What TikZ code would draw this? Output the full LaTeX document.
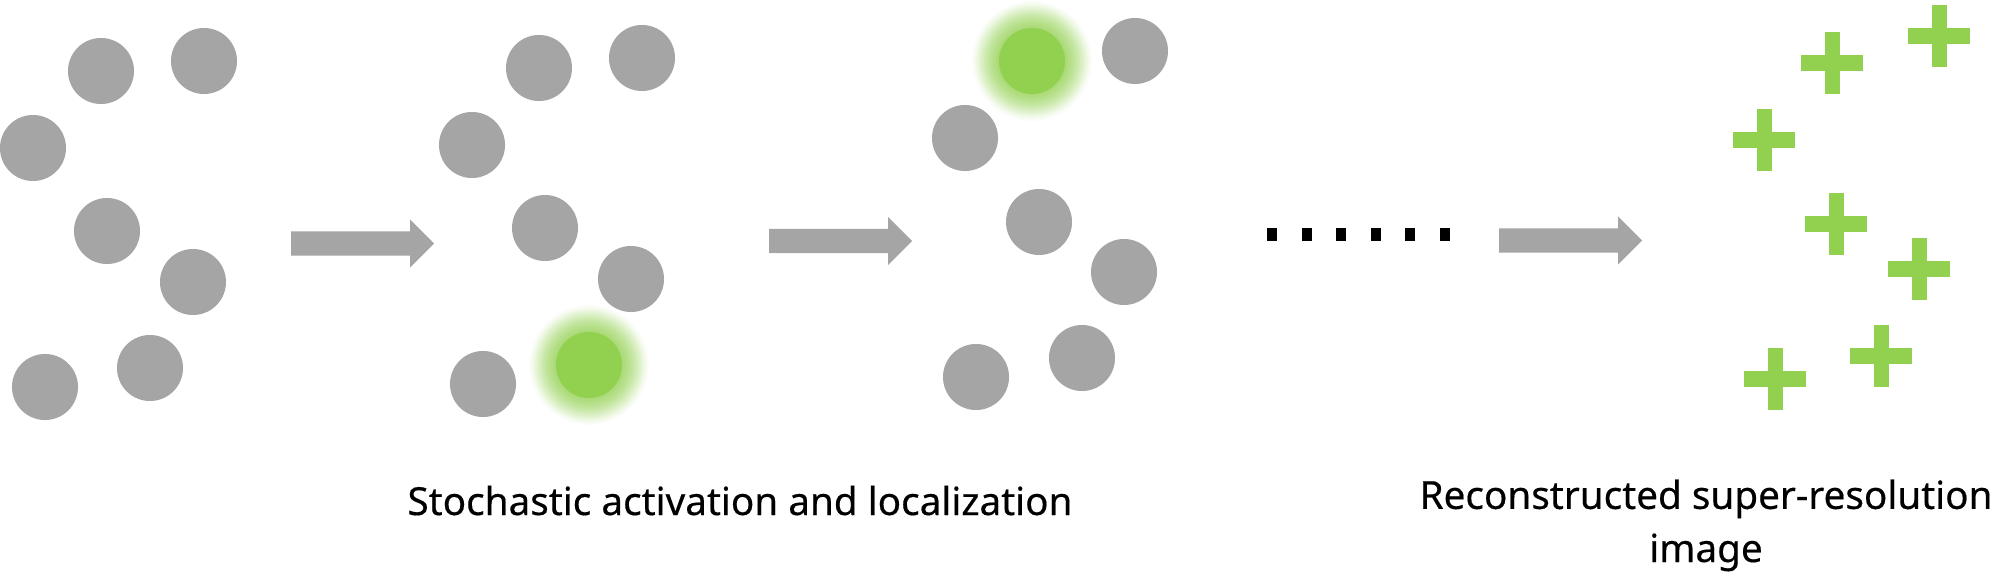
\documentclass[tikz,border=0pt]{standalone}
\usepackage{fontspec}
\setmainfont{Noto Sans}[FakeBold=0.4]
\usepackage{tikz}
\definecolor{white}{RGB}{255,255,255}
\definecolor{black}{RGB}{0,0,0}
\definecolor{dot_gray}{RGB}{165,165,165}
\definecolor{leaf_green}{RGB}{146,208,80}
\tikzset{molecule/.style={circle,fill=dot_gray,minimum size=0.66cm,inner sep=0pt}}

\begin{document}
\begin{tikzpicture}[x=0.01cm,y=-0.01cm]
	\useasboundingbox (0,0) rectangle (2000,576);

	% frame 1
	\foreach \n/\x/\y in {1/101/71,2/204/61,3/33/148,4/107/231,5/193/282,6/45/387,7/150/368}
		\node[molecule] (a\n) at (\x,\y) {};

	% frame 2
	\foreach \n/\x/\y in {1/539/68,2/642/58,3/472/145,4/545/228,5/631/279,6/483/384}
		\node[molecule] (b\n) at (\x,\y) {};

	% frame 3
	\foreach \n/\x/\y in {2/1135/51,3/965/138,4/1039/222,5/1124/272,6/976/377,7/1082/358}
		\node[molecule] (c\n) at (\x,\y) {};

	% halos of the active molecules
	\foreach \gx/\gy in {589/365,1032/61}{
		\foreach \r/\p in {0.60/3,0.58/9,0.56/16,0.54/23,0.52/30,0.50/37,0.48/44,0.46/50,0.44/56,0.42/61,0.40/66,0.38/70,0.36/74,0.34/78}
			\fill[leaf_green!\p!white] (\gx,\gy) circle (\r cm);
	}
	\node[molecule,fill=leaf_green] (b7) at (589,365) {};
	\node[molecule,fill=leaf_green] (c1) at (1032,61) {};

	% block arrows
	\foreach \ax/\ay in {291/243.5,769/241,1499/240.5}
		\fill[dot_gray] (\ax,\ay-12) -- ++(119,0) -- ++(0,-12) -- ++(24,24) -- ++(-24,24) -- ++(0,-12) -- ++(-119,0) -- cycle;

	% dots
	\foreach \i in {0,...,5}
		\fill[black] (1267+34.6*\i,228) rectangle ++(10,13);

	% localizations
	\foreach \x/\y in {1832/63,1939/36,1764/140,1836/224,1919/269,1775/379,1881/356}
		\draw[leaf_green,line width=0.15cm] (\x-31,\y) -- (\x+31,\y) (\x,\y-31) -- (\x,\y+31);

	\node[anchor=base,font=\fontsize{11}{15.1}\selectfont] (stage) at (740,515) {Stochastic activation and localization};
	\node[anchor=base,align=center,font=\fontsize{11}{15.1}\selectfont] (result) at (1706,562) {Reconstructed super-resolution\\image};
\end{tikzpicture}
\end{document}
